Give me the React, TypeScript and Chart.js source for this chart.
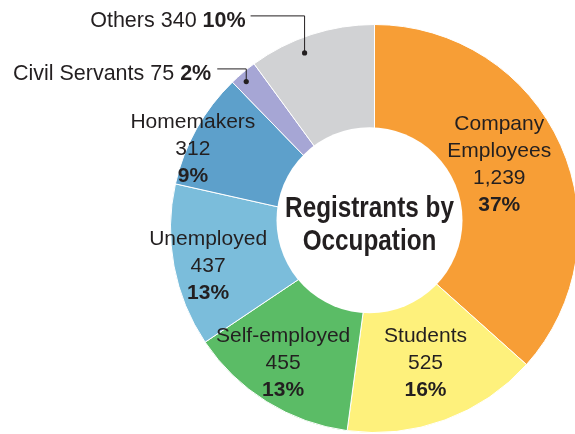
import { useEffect, useRef } from "react";
import { Chart, registerables } from "chart.js";

Chart.register(...registerables);

// ---- data ----
const categories = ["Company Employees", "Students", "Self-employed", "Unemployed", "Homemakers", "Civil Servants", "Others"];
const values = [1239, 525, 455, 437, 312, 75, 340];
const valueLabels = ["1,239", "525", "455", "437", "312", "75", "340"];
const percentLabels = ["37%", "16%", "13%", "13%", "9%", "2%", "10%"];
const nameLines = [["Company", "Employees"], ["Students"], ["Self-employed"], ["Unemployed"], ["Homemakers"], ["Civil Servants"], ["Others"]];
const titleLines = ["Registrants by", "Occupation"];

// ---- styles ----
const colors = ["#F79E36", "#FEF17C", "#5BBC66", "#7BBDDB", "#5DA0CB", "#A6A6D5", "#D1D2D4"];
const TEXT = "#231F20";
const FONT = '"Liberation Sans", Arial, Helvetica, sans-serif';

// label placement (relative to the arc's own geometry)
const insideLabels: Record<number, { dx: number; dy: number }> = {
  0: { dx: -14, dy: 4.5 },
  1: { dx: -1.5, dy: -2 },
  2: { dx: -11, dy: 11.5 },
  3: { dx: -17, dy: 15.5 },
  4: { dx: -49, dy: 1 },
};
const outsideLabels: Record<number, { frac: number; inset: number; rise: number; run: number; gap: number; base: number }> = {
  5: { frac: 0.38, inset: 9, rise: 12.7, run: 29, gap: 6, base: 11 },
  6: { frac: 0.4, inset: 15, rise: 37, run: 54, gap: 5, base: 10.8 },
};

const labelPlugin = {
  id: "labels",
  afterDatasetsDraw(chart: any) {
    const ctx = chart.ctx as CanvasRenderingContext2D;
    const meta = chart.getDatasetMeta(0);
    const a0 = meta.data[0].getProps(["x", "y", "outerRadius"], true);
    const cx = a0.x, cy = a0.y, R = a0.outerRadius;

    // white centre disc (slightly off-centre as in the original)
    const hx = cx - 5, hy = cy - 8.3, hr = R * 0.456;
    ctx.save();
    ctx.beginPath();
    ctx.arc(hx, hy, hr, 0, Math.PI * 2);
    ctx.fillStyle = "#ffffff";
    ctx.fill();

    // title
    ctx.fillStyle = TEXT;
    ctx.textAlign = "center";
    ctx.textBaseline = "alphabetic";
    ctx.font = `bold 30px ${FONT}`;
    const tb = [hy - 3.5, hy + 29.5];
    titleLines.forEach((t, i) => {
      ctx.save();
      ctx.translate(hx, tb[i]);
      ctx.scale(0.81, 1);
      ctx.fillText(t, 0, 0);
      ctx.restore();
    });

    meta.data.forEach((arc: any, i: number) => {
      const p = arc.getProps(["x", "y", "startAngle", "endAngle", "outerRadius"], true);
      if (insideLabels[i]) {
        const mid = (p.startAngle + p.endAngle) / 2;
        const r = p.outerRadius * 0.745;
        const lx = p.x + r * Math.cos(mid) + insideLabels[i].dx;
        const ly = p.y + r * Math.sin(mid) + insideLabels[i].dy;
        const lines = [...nameLines[i], valueLabels[i]];
        const n = lines.length + 1;
        const step = 27;
        const first = ly - ((n - 1) * step) / 2;
        ctx.textAlign = "center";
        ctx.fillStyle = TEXT;
        ctx.font = `21px ${FONT}`;
        lines.forEach((l, k) => ctx.fillText(l, lx, first + k * step));
        ctx.font = `bold 21px ${FONT}`;
        ctx.fillText(percentLabels[i], lx, first + lines.length * step);
      }
      const o = outsideLabels[i];
      if (o) {
        const ang = p.startAngle + (p.endAngle - p.startAngle) * o.frac;
        const r = p.outerRadius - o.inset;
        const dx = p.x + r * Math.cos(ang);
        const dy = p.y + r * Math.sin(ang);
        const lineY = dy - o.rise;
        const endX = dx - o.run;
        ctx.strokeStyle = TEXT;
        ctx.lineWidth = 1;
        ctx.beginPath();
        ctx.moveTo(dx, dy);
        ctx.lineTo(dx, lineY);
        ctx.lineTo(endX, lineY);
        ctx.stroke();
        ctx.beginPath();
        ctx.arc(dx, dy, 2.6, 0, Math.PI * 2);
        ctx.fillStyle = TEXT;
        ctx.fill();
        // text: "Name value " regular + "pct" bold, right aligned
        const right = endX - o.gap;
        const by = lineY + o.base;
        ctx.textAlign = "left";
        ctx.font = `bold 21.5px ${FONT}`;
        const wb = ctx.measureText(percentLabels[i]).width;
        ctx.font = `21.5px ${FONT}`;
        const reg = `${nameLines[i].join(" ")} ${valueLabels[i]} `;
        const wr = ctx.measureText(reg).width;
        ctx.fillText(reg, right - wb - wr, by);
        ctx.font = `bold 21.5px ${FONT}`;
        ctx.fillText(percentLabels[i], right - wb, by);
      }
    });
    ctx.restore();
  },
};

export default function App() {
  const ref = useRef<HTMLCanvasElement | null>(null);
  useEffect(() => {
    if (!ref.current) return;
    const chart = new Chart(ref.current, {
      type: "doughnut",
      data: {
        labels: categories,
        datasets: [
          {
            data: values,
            backgroundColor: colors,
            borderColor: "#ffffff",
            borderWidth: 1,
          },
        ],
      },
      options: {
        responsive: false,
        animation: false,
        cutout: "40%",
        layout: { padding: { left: 170, top: 24, right: 1, bottom: 1 } },
        plugins: {
          legend: { display: false },
          tooltip: { enabled: false },
        },
      },
      plugins: [labelPlugin],
    });
    return () => chart.destroy();
  }, []);
  return (
    <div style={{ position: "fixed", left: 0, top: 0, width: 575, height: 434, overflow: "hidden", background: "#fff" }}>
      <canvas ref={ref} width={580} height={434} style={{ display: "block" }} />
    </div>
  );
}
